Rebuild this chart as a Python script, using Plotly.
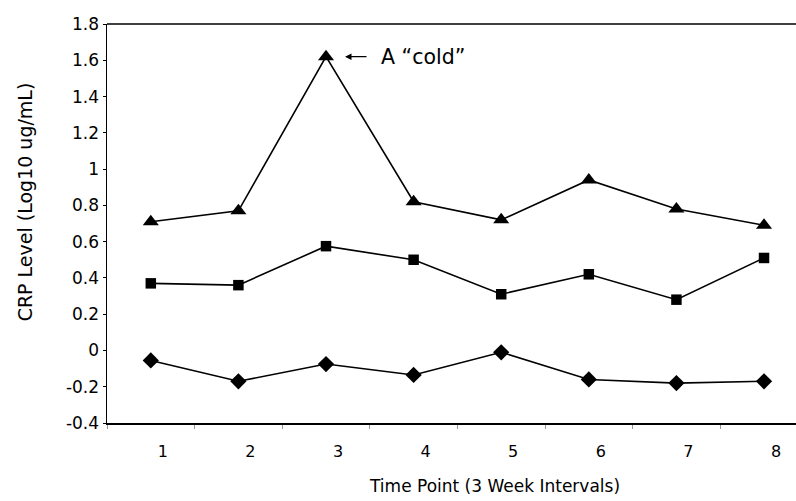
import plotly.graph_objects as go

time_points = [1, 2, 3, 4, 5, 6, 7, 8]
x_tick_labels = ["1", "2", "3", "4", "5", "6", "7", "8"]
upper_series = [0.71, 0.77, 1.62, 0.82, 0.72, 0.94, 0.78, 0.69]
middle_series = [0.37, 0.36, 0.575, 0.50, 0.31, 0.42, 0.28, 0.51]
lower_series = [-0.055, -0.17, -0.075, -0.135, -0.01, -0.16, -0.18, -0.17]
y_tick_values = [-0.4, -0.2, 0, 0.2, 0.4, 0.6, 0.8, 1.0, 1.2, 1.4, 1.6, 1.8]
y_tick_labels = ["-0.4", "-0.2", "0", "0.2", "0.4", "0.6", "0.8", "1", "1.2", "1.4", "1.6", "1.8"]
cold_label = "A \u201ccold\u201d"
x_title = "Time Point (3 Week Intervals)"
y_title = "CRP Level (Log10 ug/mL)"

FONT = "DejaVu Sans"

fig = go.Figure()
line_style = dict(color="black", width=1.6)
fig.add_trace(go.Scatter(x=time_points, y=upper_series, mode="lines+markers",
                         line=line_style,
                         marker=dict(symbol="triangle-up", size=14, color="black")))
fig.add_trace(go.Scatter(x=time_points, y=middle_series, mode="lines+markers",
                         line=line_style,
                         marker=dict(symbol="square", size=10.5, color="black")))
fig.add_trace(go.Scatter(x=time_points, y=lower_series, mode="lines+markers",
                         line=line_style,
                         marker=dict(symbol="diamond", size=12.5, color="black")))

fig.add_annotation(x=3, y=upper_series[2], xref="x", yref="y", text="",
                   showarrow=True, ax=42, ay=0, standoff=19,
                   arrowhead=2, arrowsize=1, arrowwidth=1.3, arrowcolor="black")
fig.add_annotation(x=3, y=upper_series[2], xref="x", yref="y", text=cold_label,
                   showarrow=False, xanchor="left", xshift=53,
                   font=dict(family=FONT, size=20.5, color="black"))
fig.add_annotation(x=0.563, y=-0.158, xref="paper", yref="paper", text=x_title,
                   showarrow=False, xanchor="center", yanchor="middle",
                   font=dict(family=FONT, size=17, color="black"))
fig.add_annotation(x=-0.119, y=0.553, xref="paper", yref="paper", text=y_title,
                   showarrow=False, xanchor="center", yanchor="middle", textangle=-90,
                   font=dict(family=FONT, size=19, color="black"))

# top frame line of the plot box (right side is cropped in the reference)
fig.add_shape(type="line", xref="paper", yref="paper", x0=0, x1=1.02, y0=1, y1=1,
              line=dict(color="black", width=1.5))

fig.update_layout(
    width=796, height=501,
    margin=dict(l=107, r=0, t=24, b=78, autoexpand=False),
    paper_bgcolor="white", plot_bgcolor="white",
    showlegend=False,
    font=dict(family=FONT, color="black"),
)
fig.update_xaxes(
    range=[0.5, 8.365],
    tickmode="array", tickvals=time_points, ticktext=x_tick_labels,
    ticks="", ticklabelshift=12, ticklabelstandoff=13,
    tickfont=dict(family=FONT, size=16, color="black"),
    showline=True, linecolor="black", linewidth=1.5, mirror=False,
    showgrid=False, zeroline=False,
    minor=dict(tick0=0.5, dtick=1, ticks="outside", ticklen=4, tickcolor="#999999", tickwidth=1),
)
fig.update_yaxes(
    range=[-0.4, 1.8],
    tickmode="array", tickvals=y_tick_values, ticktext=y_tick_labels,
    ticks="outside", ticklen=3, tickcolor="black",
    tickfont=dict(family=FONT, size=17, color="black"),
    showline=True, linecolor="black", linewidth=1.5, mirror=False,
    showgrid=False, zeroline=False,
)

fig.write_html("out.html",
               config={"displayModeBar": False, "staticPlot": True},
               post_script="document.body.style.margin='0';document.body.style.overflow='hidden';")
